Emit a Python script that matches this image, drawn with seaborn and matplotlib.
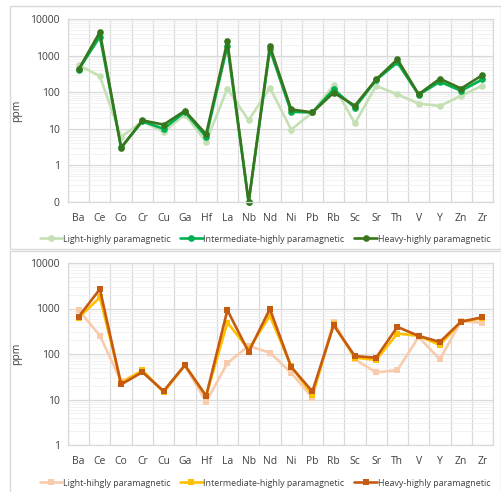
import numpy as np
import pandas as pd
import matplotlib
matplotlib.use("Agg")
import matplotlib.pyplot as plt
import seaborn as sns
from matplotlib.ticker import FixedLocator, FixedFormatter, LogLocator, NullFormatter
from matplotlib.patches import Rectangle

elements = ["Ba", "Ce", "Co", "Cr", "Cu", "Ga", "Hf", "La", "Nb", "Nd",
            "Ni", "Pb", "Rb", "Sc", "Sr", "Th", "V", "Y", "Zn", "Zr"]

# Top chart (highly paramagnetic, green)
top_light = [550, 275, 6, 16, 8.2, 24.5, 4.4, 126, 17, 134,
             9.5, 28, 156, 14, 150, 87, 49, 42, 80, 150]
top_inter = [410, 3300, 3.1, 16, 10, 29, 6.0, 1860, 0.1, 1480,
             29, 28, 119, 38, 215, 650, 85, 193, 109, 223]
top_heavy = [420, 4400, 3.0, 17, 13, 31, 7.1, 2450, 0.1, 1820,
             34, 28, 97, 43, 223, 790, 88, 233, 126, 293]
top_names = ["Light-highly paramagnetic", "Intermediate-highly paramagnetic",
             "Heavy-highly paramagnetic"]

# Bottom chart (highly paramagnetic, orange)
bot_light = [920, 254, 25, 42, 14.5, 56, 8.9, 63, 150, 107,
             39, 10.9, 517, 76, 39.5, 44, 237, 76, 530, 483]
bot_inter = [630, 1750, 23, 44, 14.5, 56, 12, 491, 127, 690,
             54, 12.5, 450, 83, 74, 281, 250, 158, 517, 610]
bot_heavy = [655, 2670, 21.4, 40, 15.3, 57, 11.9, 920, 111, 980,
             52, 15, 429, 90, 83, 394, 250, 184, 517, 640]
bot_names = ["Light-hihgly paramagnetic", "Intermediate-highly paramagnetic",
             "Heavy-highly paramagnetic"]

top_ticks = [0.1, 1, 10, 100, 1000, 10000]
top_ticklabels = ["0", "1", "10", "100", "1000", "10000"]
bot_ticks = [1, 10, 100, 1000, 10000]
bot_ticklabels = ["1", "10", "100", "1000", "10000"]

top_colors = ["#C5E0B4", "#00B050", "#38761D"]
bot_colors = ["#F8CBAD", "#FFC000", "#C55A11"]

sns.set_theme(style="white")
plt.rcParams["font.family"] = ["Open Sans", "DejaVu Sans"]

W, H = 502, 492
fig = plt.figure(figsize=(W / 100, H / 100), dpi=100)

# chart borders
for (x0, y0, x1, y1) in [(10, 6, 501, 249), (10, 251, 501, 495)]:
    fig.patches.append(Rectangle((x0 / W, 1 - y1 / H), (x1 - x0) / W, (y1 - y0) / H,
                                 transform=fig.transFigure, fill=False,
                                 edgecolor="#D9D9D9", linewidth=1.0))


def make_panel(rect, series, names, colors, marker, ticks, ticklabels, ylim, legend_y):
    left, top, right, bottom = rect
    ax = fig.add_axes([left / W, 1 - bottom / H, (right - left) / W, (bottom - top) / H])
    x = np.arange(len(elements))
    frames = []
    for vals, name in zip(series, names):
        frames.append(pd.DataFrame({"x": x, "ppm": vals, "series": name}))
    df = pd.concat(frames, ignore_index=True)
    sns.lineplot(data=df, x="x", y="ppm", hue="series", palette=dict(zip(names, colors)),
                 marker=marker, markersize=4.8, markeredgewidth=0, linewidth=1.9,
                 ax=ax, legend=False, sort=False, clip_on=False)
    ax.set_yscale("log")
    ax.set_ylim(*ylim)
    ax.set_xlim(-0.5, len(elements) - 0.5)
    ax.yaxis.set_major_locator(FixedLocator(ticks))
    ax.yaxis.set_major_formatter(FixedFormatter(ticklabels))
    ax.yaxis.set_minor_locator(LogLocator(base=10, subs=np.arange(2, 10)))
    ax.yaxis.set_minor_formatter(NullFormatter())
    ax.set_xticks(x)
    ax.set_xticklabels(elements)
    ax.xaxis.set_minor_locator(FixedLocator(np.arange(-0.5, len(elements), 1)))
    ax.grid(True, which="major", axis="y", color="#D9D9D9", linewidth=0.9)
    ax.grid(True, which="minor", axis="y", color="#F0F0F0", linewidth=0.6)
    ax.grid(True, which="minor", axis="x", color="#D9D9D9", linewidth=0.9)
    ax.grid(False, which="major", axis="x")
    ax.set_axisbelow(True)
    for s in ax.spines.values():
        s.set_color("#D9D9D9")
        s.set_linewidth(0.9)
    ax.tick_params(axis="both", which="both", length=0, labelsize=7.5, colors="#404040", pad=6)
    ax.tick_params(axis="x", pad=8)
    ax.set_xlabel("")
    ax.set_ylabel("ppm", fontsize=7.5, color="#404040")
    ax.yaxis.set_label_coords((22 - left) / (right - left), 0.5)
    handles = [plt.Line2D([], [], color=c, linewidth=1.9, marker=marker, markersize=4.8,
                          markeredgewidth=0) for c in colors]
    fig.legend(handles, names, loc="center", bbox_to_anchor=(0.5 + 14 / W, 1 - legend_y / H),
               ncol=3, frameon=False, fontsize=6.4, handlelength=2.5, handletextpad=0.1,
               columnspacing=1.1, labelcolor="#404040")
    return ax


make_panel((68, 19, 493, 202), [top_light, top_inter, top_heavy], top_names, top_colors,
           "o", top_ticks, top_ticklabels, (0.1, 10000), 239)
make_panel((68, 263, 493, 445), [bot_light, bot_inter, bot_heavy], bot_names, bot_colors,
           "s", bot_ticks, bot_ticklabels, (1, 10000), 483)

fig.savefig("out.png", dpi=100)
